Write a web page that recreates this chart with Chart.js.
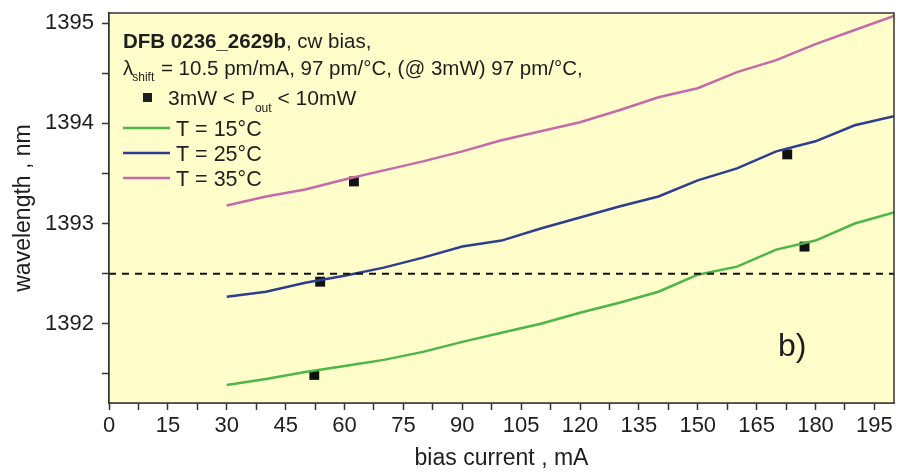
<!DOCTYPE html>
<html>
<head>
<meta charset="utf-8">
<script src="https://cdn.jsdelivr.net/npm/chart.js@4.4.1/dist/chart.umd.min.js"></script>
<style>
  html, body { margin: 0; padding: 0; background: #fff; }
  #wrap { width: 901px; height: 473px; }
</style>
</head>
<body>
<div id="wrap"><canvas id="chart" width="901" height="473"></canvas></div>
<script>
// bias current (mA) for the three curves
const currents = [30, 40, 50, 60, 70, 80, 90, 100, 110, 120, 130, 140, 150, 160, 170, 180, 190, 200];
// wavelength (nm) per temperature
const wl15 = [1391.39, 1391.45, 1391.52, 1391.58, 1391.64, 1391.72, 1391.82, 1391.91, 1392.00, 1392.11, 1392.21, 1392.32, 1392.49, 1392.57, 1392.74, 1392.83, 1393.00, 1393.11];
const wl25 = [1392.27, 1392.32, 1392.41, 1392.48, 1392.56, 1392.66, 1392.77, 1392.83, 1392.95, 1393.06, 1393.17, 1393.27, 1393.43, 1393.55, 1393.72, 1393.82, 1393.98, 1394.07];
const wl35 = [1393.18, 1393.27, 1393.34, 1393.44, 1393.53, 1393.62, 1393.72, 1393.83, 1393.92, 1394.01, 1394.13, 1394.26, 1394.35, 1394.51, 1394.63, 1394.79, 1394.93, 1395.07];
// points where 3mW < Pout < 10mW
const markCurrents = [52.3, 53.8, 62.4, 172.8, 177.2];
const markWavelengths = [1391.49, 1392.42, 1393.42, 1393.69, 1392.77];
// dashed reference level
const refLevel = 1392.5;
const refCurrents = [0, 200];
// tick labels
const xTickValues = [0, 15, 30, 45, 60, 75, 90, 105, 120, 135, 150, 165, 180, 195];
const yTickValues = [1392, 1393, 1394, 1395];

const colors = { t15: '#4cb648', t25: '#2d3e8e', t35: '#c46aa9' };
const textColor = '#1e1e1e';

function toPoints(xs, ys) {
    return xs.map((x, i) => ({ x: x, y: ys[i] }));
}

// fond jaune + cadre + texte de légende
const annotationPlugin = {
    id: 'annotation',
    beforeDatasetsDraw(chart) {
        const { ctx, chartArea: a } = chart;
        ctx.save();
        ctx.fillStyle = '#fffdc9';
        ctx.fillRect(a.left, a.top, a.right - a.left, a.bottom - a.top);
        ctx.restore();
    },
    afterDatasetsDraw(chart) {
        const { ctx, chartArea: a } = chart;
        ctx.save();
        ctx.strokeStyle = '#333';
        ctx.lineWidth = 1.5;
        ctx.strokeRect(a.left, a.top, a.right - a.left, a.bottom - a.top);

        ctx.fillStyle = textColor;
        ctx.textBaseline = 'alphabetic';
        const fam = '"Liberation Sans", Arial, sans-serif';
        let x = 123;

        // ligne 1
        ctx.font = 'bold 20.5px ' + fam;
        ctx.fillText('DFB 0236_2629b', x, 48);
        let w = ctx.measureText('DFB 0236_2629b').width;
        ctx.font = '20.5px ' + fam;
        ctx.fillText(', cw bias,', x + w, 48);

        // ligne 2
        ctx.font = '20.5px ' + fam;
        ctx.fillText('\u03bb', x, 75);
        w = ctx.measureText('\u03bb').width;
        ctx.font = '12px ' + fam;
        ctx.fillText('shift', x + w - 1, 81);
        const w2 = ctx.measureText('shift').width;
        ctx.font = '20.5px ' + fam;
        ctx.fillText(' = 10.5 pm/mA, 97 pm/\u00b0C, (@ 3mW) 97 pm/\u00b0C,', x + w + w2, 75);

        // ligne 3
        ctx.fillRect(143, 93, 9, 9);
        ctx.font = '21px ' + fam;
        let t = '3mW < P';
        ctx.fillText(t, 168, 105);
        w = ctx.measureText(t).width;
        ctx.font = '12px ' + fam;
        ctx.fillText('out', 168 + w, 112);
        const w3 = ctx.measureText('out').width;
        ctx.font = '21px ' + fam;
        ctx.fillText(' < 10mW', 168 + w + w3, 105);

        // échantillons de courbes
        const rows = [['T = 15\u00b0C', colors.t15, 128], ['T = 25\u00b0C', colors.t25, 153], ['T = 35\u00b0C', colors.t35, 178]];
        rows.forEach(r => {
            ctx.strokeStyle = r[1];
            ctx.lineWidth = 2.5;
            ctx.beginPath();
            ctx.moveTo(123, r[2]);
            ctx.lineTo(170, r[2]);
            ctx.stroke();
            ctx.fillStyle = textColor;
            ctx.font = '21.5px ' + fam;
            ctx.fillText(r[0], 176, r[2] + 8);
        });

        ctx.font = '32px ' + fam;
        ctx.fillText('b)', 778, 356);
        ctx.restore();
    }
};

const ctx = document.getElementById('chart').getContext('2d');
const tickFont = { family: '"Liberation Sans", Arial, sans-serif', size: 22 };

new Chart(ctx, {
    data: {
        datasets: [
            {
                type: 'line',
                label: 'ref',
                data: toPoints(refCurrents, [refLevel, refLevel]),
                borderColor: '#111',
                borderWidth: 2,
                borderDash: [7, 6],
                pointRadius: 0
            },
            {
                type: 'line',
                label: 'T = 15°C',
                data: toPoints(currents, wl15),
                borderColor: colors.t15,
                borderWidth: 2.5,
                pointRadius: 0
            },
            {
                type: 'line',
                label: 'T = 25°C',
                data: toPoints(currents, wl25),
                borderColor: colors.t25,
                borderWidth: 2.5,
                pointRadius: 0
            },
            {
                type: 'line',
                label: 'T = 35°C',
                data: toPoints(currents, wl35),
                borderColor: colors.t35,
                borderWidth: 2.5,
                pointRadius: 0
            },
            {
                type: 'scatter',
                label: '3mW < Pout < 10mW',
                data: toPoints(markCurrents, markWavelengths),
                pointStyle: 'rect',
                pointRadius: 7,
                backgroundColor: '#111',
                borderColor: '#111',
                borderWidth: 0
            }
        ]
    },
    options: {
        responsive: false,
        animation: false,
        layout: { padding: { top: 13, right: 5, left: 0, bottom: 0 } },
        plugins: {
            legend: { display: false },
            tooltip: { enabled: false }
        },
        scales: {
            x: {
                type: 'linear',
                min: 0,
                max: 200,
                afterBuildTicks(axis) {
                    const list = [];
                    for (let v = 0; v <= 195; v += 7.5) list.push({ value: v });
                    axis.ticks = list;
                },
                afterFit(scale) {
                    scale.height = 70;
                    scale.paddingLeft = 0;
                    scale.paddingRight = 0;
                },
                ticks: {
                    autoSkip: false,
                    maxRotation: 0,
                    color: textColor,
                    font: tickFont,
                    padding: 3,
                    callback: v => (xTickValues.includes(v) ? String(v) : '')
                },
                grid: { drawOnChartArea: false, drawTicks: true, tickLength: 7, color: '#333', tickWidth: 1.5 },
                border: { display: true, color: '#333', width: 1.5 },
                title: {
                    display: true,
                    text: 'bias current , mA',
                    color: textColor,
                    font: { family: tickFont.family, size: 23 },
                    padding: { top: 0, bottom: 1 }
                }
            },
            y: {
                type: 'linear',
                min: 1391.21,
                max: 1395.10,
                afterBuildTicks(axis) {
                    const list = [];
                    for (let v = 1391.5; v <= 1395.001; v += 0.5) list.push({ value: Math.round(v * 10) / 10 });
                    axis.ticks = list;
                },
                afterFit(scale) {
                    scale.width = 109;
                    scale.paddingTop = 0;
                    scale.paddingBottom = 0;
                },
                ticks: {
                    autoSkip: false,
                    color: textColor,
                    font: tickFont,
                    padding: 8,
                    callback: v => (yTickValues.includes(v) ? String(v) : '')
                },
                grid: { drawOnChartArea: false, drawTicks: true, tickLength: 7, color: '#333', tickWidth: 1.5 },
                border: { display: true, color: '#333', width: 1.5 },
                title: {
                    display: true,
                    text: 'wavelength , nm',
                    color: textColor,
                    font: { family: tickFont.family, size: 23 },
                    padding: { top: 10, bottom: 0 }
                }
            }
        }
    },
    plugins: [annotationPlugin]
});
</script>
</body>
</html>
